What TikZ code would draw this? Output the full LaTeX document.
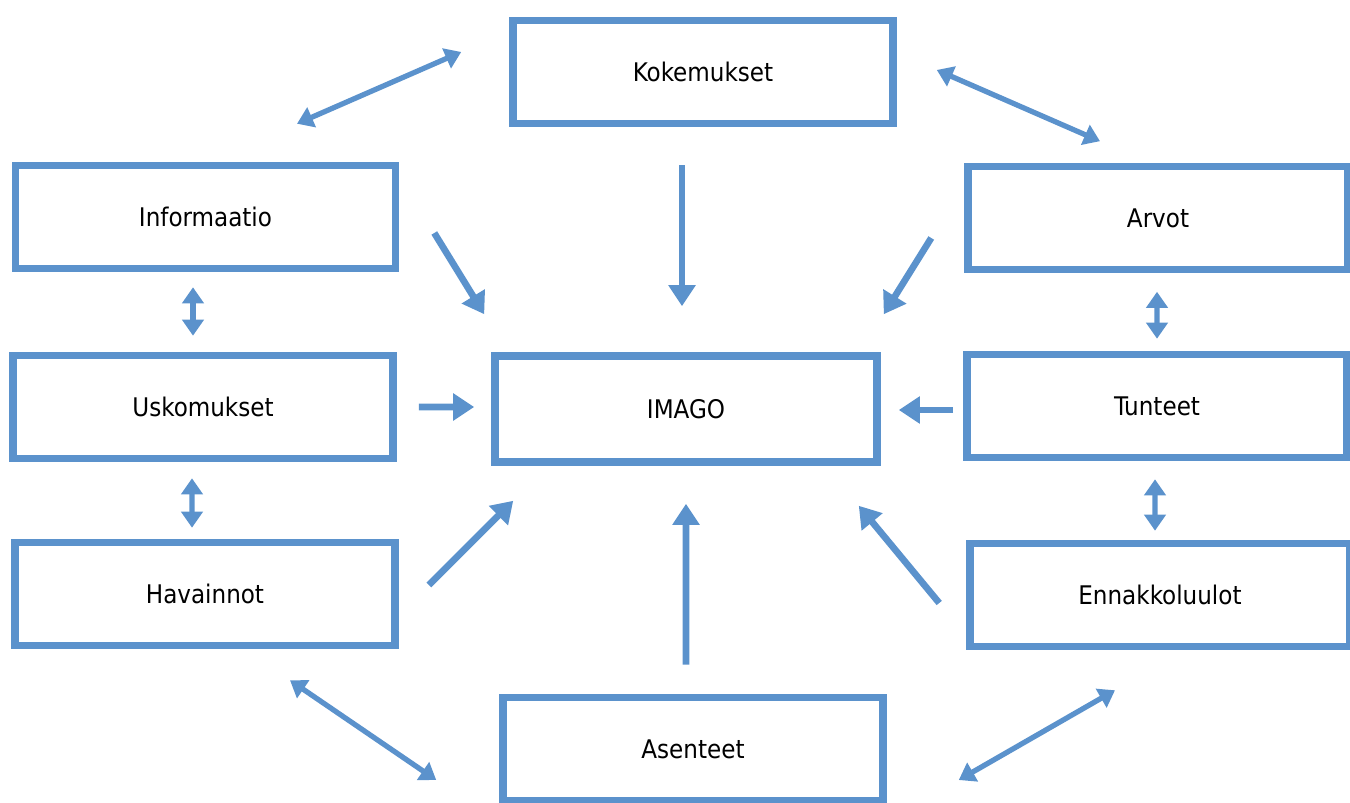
\documentclass[tikz,border=0pt]{standalone}
\usepackage{fontspec}
\setmainfont{DejaVu Sans Condensed}
\usetikzlibrary{arrows.meta,positioning,calc}
\definecolor{imblue}{RGB}{91,146,204}
\tikzstyle{box} = [rectangle, draw=imblue, line width=4.3pt, fill=white,
  minimum width=7.6cm, minimum height=2.06cm, font=\fontsize{14.6}{17}\selectfont]
\tikzstyle{line} = [draw=imblue, line width=3.8pt, -{Triangle[length=0.42cm, width=0.52cm]}]
\tikzstyle{dline} = [draw=imblue, line width=3pt,
  {Triangle[length=0.32cm, width=0.42cm]}-{Triangle[length=0.32cm, width=0.42cm]}]

\begin{document}
\begin{tikzpicture}
\useasboundingbox (0,0) rectangle (27,-16.06);

% ==========================================
% BOXES
% ==========================================
\node[box] (kok) at (14.06,-1.44) {Kokemukset};
\node[box] (inf) at (4.11,-4.34)  {Informaatio};
\node[box] (arv) at (23.16,-4.36) {Arvot};
\node[box] (usk) at (4.06,-8.14)  {Uskomukset};
\node[box, minimum width=7.64cm, minimum height=2.12cm] (ima) at (13.72,-8.18) {IMAGO};
\node[box] (tun) at (23.14,-8.12) {Tunteet};
\node[box] (hav) at (4.10,-11.88) {Havainnot};
\node[box] (enn) at (23.2,-11.9)  {Ennakkoluulot};
\node[box] (ase) at (13.86,-14.98) {Asenteet};

% ==========================================
% ARROWS INTO IMAGO
% ==========================================
\draw[line] ([shift={(-0.42,-0.76)}]kok.south) -- ([shift={(-0.08,0.92)}]ima.north);
\draw[line] ([shift={(0.70,-0.32)}]inf.east) -- ([shift={(-0.14,0.76)}]ima.north west);
\draw[line] ([shift={(-0.66,-0.40)}]arv.west) -- ([shift={(0.06,0.76)}]ima.north east);
\draw[line] ([shift={(0.44,0)}]usk.east) -- ([shift={(-0.34,0.04)}]ima.west);
\draw[line] ([shift={(-0.20,-0.08)}]tun.west) -- ([shift={(0.36,-0.02)}]ima.east);
\draw[line] ([shift={(0.60,0.18)}]hav.east) -- ([shift={(0.44,-0.70)}]ima.south west);
\draw[line] ([shift={(-0.14,0.58)}]ase.north) -- ([shift={(0,-0.76)}]ima.south);
\draw[line] ([shift={(-0.54,-0.16)}]enn.west) -- ([shift={(-0.44,-0.80)}]ima.south east);

% ==========================================
% DOUBLE ARROWS AROUND
% ==========================================
\draw[dline] ([shift={(-0.96,0.40)}]kok.west) -- ([shift={(1.83,0.76)}]inf.north);
\draw[dline] ([shift={(0.80,0.04)}]kok.east) -- ([shift={(-1.16,0.43)}]arv.north);
\draw[dline] ([shift={(-0.25,-0.30)}]inf.south) -- ([shift={(-0.20,0.32)}]usk.north);
\draw[dline] ([shift={(-0.22,-0.32)}]usk.south) -- ([shift={(-0.26,0.22)}]hav.north);
\draw[dline] ([shift={(-0.02,-0.37)}]arv.south) -- ([shift={(0,0.24)}]tun.north);
\draw[dline] ([shift={(-0.04,-0.36)}]tun.south) -- ([shift={(-0.10,0.18)}]enn.north);
\draw[dline] ([shift={(1.70,-0.62)}]hav.south) -- ([shift={(-1.26,-0.62)}]ase.west);
\draw[dline] ([shift={(-0.90,-0.80)}]enn.south) -- ([shift={(1.44,-0.62)}]ase.east);

\end{tikzpicture}
\end{document}
